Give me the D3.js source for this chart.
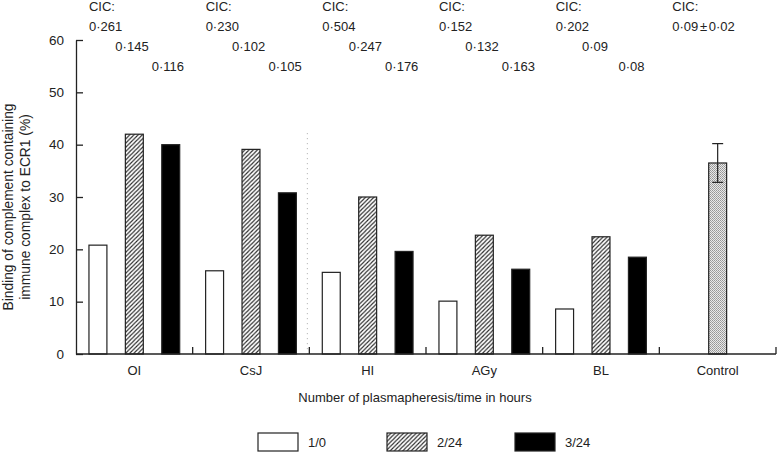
<!DOCTYPE html>
<html>
<head>
<meta charset="utf-8">
<script src="https://cdn.jsdelivr.net/npm/d3@7"></script>
<style>
  html, body { margin: 0; padding: 0; background: #fff; }
  svg { display: block; font-family: "Liberation Sans", Arial, sans-serif; }
</style>
</head>
<body>
<svg id="chart" width="777" height="452"></svg>
<script>
// ---- data ----
const categories = ["OI", "CsJ", "HI", "AGy", "BL", "Control"];
const patients = ["OI", "CsJ", "HI", "AGy", "BL"];
const series = ["1/0", "2/24", "3/24"];
const values1 = [20.8, 15.9, 15.6, 10.1, 8.6];
const values2 = [42.0, 39.1, 30.0, 22.7, 22.4];
const values3 = [40.0, 30.8, 19.6, 16.2, 18.5];
const controlValue = 36.5;
const controlError = 3.7;
const cic1 = ["0·261", "0·230", "0·504", "0·152", "0·202"];
const cic2 = ["0·145", "0·102", "0·247", "0·132", "0·09"];
const cic3 = ["0·116", "0·105", "0·176", "0·163", "0·08"];
const controlCIC = "0·09 ± 0·02";
const yTicks = [0, 10, 20, 30, 40, 50, 60];
const yTitle = ["Binding of complement containing", "immune complex to ECR1 (%)"];
const xTitle = "Number of plasmapheresis/time in hours";

// ---- setup ----
const svg = d3.select("#chart");
const mLeft = 76, mRight = 776, mTop = 40, mBottom = 354;
const fs = 13;

const x = d3.scaleBand().domain(categories).range([mLeft, mRight]).padding(0);
const xs = d3.scaleBand().domain(series).range([0, x.bandwidth()])
  .paddingInner(0.507).paddingOuter(0.356);
const y = d3.scaleLinear().domain([0, 60]).range([mBottom, mTop]);

const defs = svg.append("defs");
const hatch = defs.append("pattern").attr("id", "hatch")
  .attr("patternUnits", "userSpaceOnUse").attr("width", 4.2).attr("height", 4.2);
hatch.append("rect").attr("width", 4.2).attr("height", 4.2).attr("fill", "#fff");
hatch.append("path").attr("d", "M-1,1.1 l2.1,-2.1 M0,4.2 l4.2,-4.2 M3.1,5.3 l2.1,-2.1")
  .attr("stroke", "#2a2a2a").attr("stroke-width", 1.15);

const stip = defs.append("pattern").attr("id", "stipple")
  .attr("patternUnits", "userSpaceOnUse").attr("width", 2).attr("height", 2);
stip.append("rect").attr("width", 2).attr("height", 2).attr("fill", "#e8e8e8");
stip.append("rect").attr("width", 1).attr("height", 1).attr("fill", "#959595");
stip.append("rect").attr("x", 1).attr("y", 1).attr("width", 1).attr("height", 1).attr("fill", "#a5a5a5");

const fills = { "1/0": "#fff", "2/24": "url(#hatch)", "3/24": "#000" };
const allValues = [values1, values2, values3];

// ---- bars ----
const barData = [];
patients.forEach((p, i) => {
  series.forEach((s, j) => barData.push({ cat: p, s, v: allValues[j][i] }));
});

svg.append("g").selectAll("rect").data(barData).join("rect")
  .attr("x", d => x(d.cat) + xs(d.s))
  .attr("y", d => y(d.v))
  .attr("width", xs.bandwidth())
  .attr("height", d => y(0) - y(d.v))
  .attr("fill", d => fills[d.s])
  .attr("stroke", "#222")
  .attr("stroke-width", 1.2);

// control bar
const cx = x("Control") + x.bandwidth() / 2;
svg.append("rect")
  .attr("x", cx - xs.bandwidth() / 2)
  .attr("y", y(controlValue))
  .attr("width", xs.bandwidth())
  .attr("height", y(0) - y(controlValue))
  .attr("fill", "url(#stipple)")
  .attr("stroke", "#222").attr("stroke-width", 1.2);

const eb = svg.append("g").attr("stroke", "#222").attr("stroke-width", 1.2);
eb.append("line").attr("x1", cx).attr("x2", cx)
  .attr("y1", y(controlValue + controlError)).attr("y2", y(controlValue - controlError));
[controlValue + controlError, controlValue - controlError].forEach(v => {
  eb.append("line").attr("x1", cx - 5.5).attr("x2", cx + 5.5).attr("y1", y(v)).attr("y2", y(v));
});

// dotted separator
svg.append("line")
  .attr("x1", x("HI") - 2).attr("x2", x("HI") - 2)
  .attr("y1", y(42.2)).attr("y2", y(0))
  .attr("stroke", "#aaa").attr("stroke-width", 1).attr("stroke-dasharray", "1,4");

// ---- axes ----
const yAxis = d3.axisLeft(y).tickValues(yTicks).tickSizeInner(-7).tickSizeOuter(0).tickPadding(12);
const gy = svg.append("g").attr("transform", `translate(${mLeft},0)`).call(yAxis);
gy.select(".domain").attr("stroke", "#222").attr("stroke-width", 1.3);
gy.selectAll(".tick line").attr("stroke", "#222").attr("stroke-width", 1.3);
gy.selectAll(".tick text").attr("font-size", 13.5).attr("fill", "#222")
  .attr("font-family", "Liberation Sans, Arial, sans-serif");

// x axis line
svg.append("line").attr("x1", mLeft).attr("x2", mRight).attr("y1", y(0)).attr("y2", y(0))
  .attr("stroke", "#222").attr("stroke-width", 1.3);
// boundary ticks (inward)
const boundaries = categories.map(c => x(c) + x.bandwidth()).filter(v => v > mLeft);
svg.append("g").selectAll("line").data(boundaries).join("line")
  .attr("x1", d => d).attr("x2", d => d)
  .attr("y1", y(0)).attr("y2", y(0) - 7)
  .attr("stroke", "#222").attr("stroke-width", 1.3);

// category labels
svg.append("g").selectAll("text").data(categories).join("text")
  .attr("x", d => x(d) + x.bandwidth() / 2)
  .attr("y", 375)
  .attr("text-anchor", "middle")
  .attr("font-size", fs).attr("fill", "#222")
  .text(d => d);

// axis titles
svg.append("text").attr("x", 415).attr("y", 402).attr("text-anchor", "middle")
  .attr("font-size", fs).attr("fill", "#222").text(xTitle);

const yt = svg.append("text").attr("transform", "translate(0,207) rotate(-90)")
  .attr("text-anchor", "middle").attr("font-size", 13.8).attr("fill", "#222");
yt.append("tspan").attr("x", 0).attr("y", 13).text(yTitle[0]);
yt.append("tspan").attr("x", 0).attr("y", 30).text(yTitle[1]);

// ---- CIC annotations ----
const ann = svg.append("g").attr("font-size", fs).attr("fill", "#222");
categories.forEach(c => {
  ann.append("text").attr("x", x(c) + xs(series[0])).attr("y", 11).text("CIC:");
});
ann.selectAll(".r1").data(patients).join("text").attr("class", "r1")
  .attr("x", d => x(d) + xs(series[0])).attr("y", 31).text((d, i) => cic1[i]);
ann.selectAll(".r2").data(patients).join("text").attr("class", "r2")
  .attr("x", d => x(d) + xs(series[1]) - 10).attr("y", 51).text((d, i) => cic2[i]);
ann.selectAll(".r3").data(patients).join("text").attr("class", "r3")
  .attr("x", d => x(d) + xs(series[2]) - 10).attr("y", 71).text((d, i) => cic3[i]);
ann.append("text").attr("x", x("Control") + xs(series[0])).attr("y", 31)
  .attr("word-spacing", -2).text(controlCIC);

// ---- legend ----
const legX = [258, 387, 515];
const lg = svg.append("g").selectAll("g").data(series).join("g")
  .attr("transform", (d, i) => `translate(${legX[i]},433)`);
lg.append("rect").attr("width", 40).attr("height", 18)
  .attr("fill", d => fills[d]).attr("stroke", "#222").attr("stroke-width", 1.2);
lg.append("text").attr("x", 50).attr("y", 14).attr("font-size", fs).attr("fill", "#222")
  .text(d => d);
</script>
</body>
</html>
